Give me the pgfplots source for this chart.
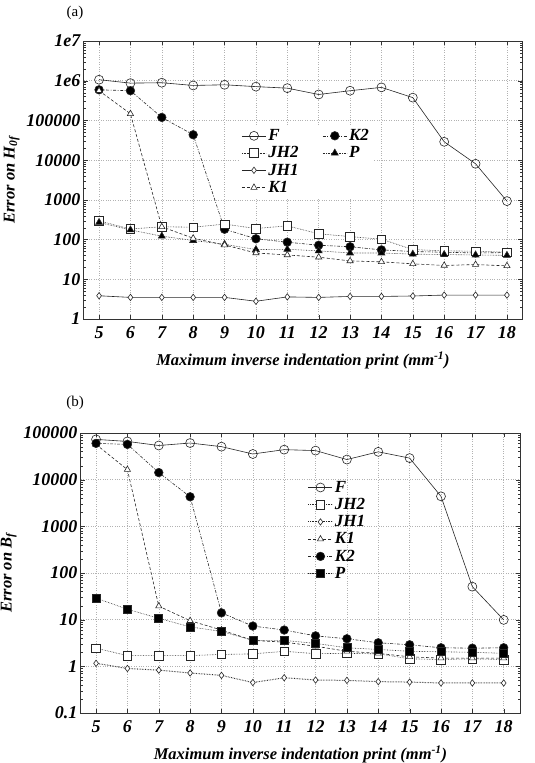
\documentclass[border=0pt]{standalone}
\usepackage{fontspec}
\setmainfont{Liberation Serif}
\usepackage{pgfplots}
\usepackage{pgfplotstable}
\pgfplotsset{compat=1.18}

\pgfplotstableread{
x  F       JH2  JH1   K1      K2      P
5  1.06e6  295  3.85  5.6e5   5.9e5   270
6  8.7e5   185  3.5   1.47e5  5.6e5   175
7  8.9e5   210  3.5   210     1.19e5  122
8  7.6e5   205  3.5   108     4.36e4  95
9  7.9e5   245  3.5   73      182     76
10 7.1e5   190  2.8   46      105     56
11 6.5e5   222  3.6   41      86      57
12 4.5e5   140  3.5   36      72      52
13 5.6e5   119  3.7   29      66      46
14 6.8e5   102  3.7   27.5    55      46
15 3.75e5  56   3.8   24.5    50      43
16 2.9e4   52   4.0   22.3    48      42
17 8.1e3   51   4.0   23.5    46      41
18 930     48   4.0   21.8    47      40
}\tabHof

\pgfplotstableread{
x  F       JH2   JH1   K1      K2      P
5  7.3e4   2.45  1.16  5.7e4   6.0e4   29
6  6.6e4   1.7   0.90  1.64e4  5.7e4   16.7
7  5.4e4   1.7   0.83  19.5    1.42e4  10.7
8  6.1e4   1.7   0.72  9.5     4.3e3   7.0
9  5.1e4   1.8   0.64  6.0     14      5.6
10 3.55e4  1.85  0.45  3.6     7.3     3.6
11 4.4e4   2.1   0.57  3.3     6.0     3.6
12 4.2e4   1.87  0.51  2.7     4.5     3.1
13 2.7e4   1.9   0.50  2.1     3.9     2.5
14 3.95e4  1.85  0.47  1.9     3.2     2.3
15 2.9e4   1.45  0.46  1.6     2.9     2.1
16 4.4e3   1.4   0.44  1.5     2.5     2.05
17 51      1.45  0.44  1.5     2.45    2.0
18 9.9     1.4   0.44  1.5     2.5     1.9
}\tabBf

\newcommand{\tickfont}{\fontsize{18}{18}\selectfont\bfseries\itshape}
\newcommand{\labfont}{\fontsize{16.5}{16.5}\selectfont\bfseries\itshape}
\newcommand{\legfont}{\fontsize{17}{17}\selectfont\bfseries\itshape}

\pgfplotsset{
  panel/.style={
    scale only axis,
    xtick={5,...,18},
    grid=major,
    grid style={dotted, gray!60, line width=0.5pt},
    axis line style={black!80, line width=1pt},
    tick style={black!80},
    tick align=inside,
    major tick length=4pt,
    minor tick length=2pt,
    ticklabel style={font=\tickfont},
    label style={font=\labfont},
    xlabel={Maximum inverse indentation print (mm\textsuperscript{-1})},
    xlabel style={yshift=-6pt},
    legend cell align=left,
    legend image code/.code={
      \draw[mark repeat=2,mark phase=2,##1] plot coordinates {(0pt,0pt) (12pt,0pt) (24pt,0pt)};},
    every axis plot/.append style={black!85, line width=0.6pt},
  },
  sF/.style={solid, mark=o, mark size=4.5pt, mark options={solid, fill=white}},
  sJHtwo/.style={densely dotted, mark=square*, mark size=4.3pt, mark options={solid, fill=white}},
  sJHone/.style={solid, mark=diamond*, mark size=3.2pt, mark options={solid, fill=white}},
  sKone/.style={dash pattern=on 3pt off 2pt, mark=triangle*, mark size=3.6pt, mark options={solid, fill=white}},
  sKtwo/.style={dash pattern=on 3pt off 1.5pt on 1pt off 1.5pt, mark=*, mark size=4.3pt, mark options={solid, fill=black}},
}

\begin{document}
\begin{tikzpicture}
\path[use as bounding box] (0pt,0pt) rectangle (535pt,-763pt);

\node at (75pt,-13pt) {\fontsize{15}{15}\selectfont (a)};
\node at (75pt,-403pt) {\fontsize{15}{15}\selectfont (b)};

\begin{axis}[panel, ymode=log,
  at={(84pt,-41pt)}, anchor=north west, width=438pt, height=278pt,
  xmin=4.52, xmax=18.48, ymin=1, ymax=1e7,
  xticklabel style={/pgf/number format/assume math mode=true, yshift=-4pt},
  ytick={1,10,100,1000,10000,100000,1000000,10000000},
  yticklabels={1,10,100,1000,10000,100000,1e6,1e7},
  ylabel={Error on H\textsubscript{0f}},
  legend columns=2,
  legend style={at={(0.355,0.697)}, anchor=north west, fill=white, draw=none,
    font=\legfont, inner sep=2pt, row sep=0.5pt,
    /tikz/every even column/.append style={column sep=22pt}},
]
\addplot[sF] table[x=x,y=F] {\tabHof};
\addlegendentry{F}
\addplot[sKtwo] table[x=x,y=K2] {\tabHof};
\addlegendentry{K2}
\addplot[sJHtwo] table[x=x,y=JH2] {\tabHof};
\addlegendentry{JH2}
\addplot[densely dotted, mark=triangle*, mark size=4pt, mark options={solid, fill=black}] table[x=x,y=P] {\tabHof};
\addlegendentry{P}
\addplot[sJHone] table[x=x,y=JH1] {\tabHof};
\addlegendentry{JH1}
\addlegendimage{empty legend}
\addlegendentry{}
\addplot[sKone] table[x=x,y=K1] {\tabHof};
\addlegendentry{K1}
\end{axis}

\begin{axis}[panel, ymode=log,
  at={(81pt,-433pt)}, anchor=north west, width=439pt, height=280pt,
  xmin=4.52, xmax=18.52, ymin=0.1, ymax=1e5,
  xticklabel style={/pgf/number format/assume math mode=true, yshift=-4pt},
  ytick={0.1,1,10,100,1000,10000,100000},
  yticklabels={0.1,1,10,100,1000,10000,100000},
  ylabel={Error on B\textsubscript{f}},
  legend style={at={(0.512,0.843)}, anchor=north west, fill=none, draw=none,
    font=\legfont, inner sep=2pt, row sep=0.5pt},
]
\addplot[sF] table[x=x,y=F] {\tabBf};
\addlegendentry{F}
\addplot[sJHtwo] table[x=x,y=JH2] {\tabBf};
\addlegendentry{JH2}
\addplot[densely dotted, line width=1pt, mark=diamond*, mark size=3.2pt, mark options={solid, fill=white, line width=0.6pt}] table[x=x,y=JH1] {\tabBf};
\addlegendentry{JH1}
\addplot[sKone] table[x=x,y=K1] {\tabBf};
\addlegendentry{K1}
\addplot[sKtwo] table[x=x,y=K2] {\tabBf};
\addlegendentry{K2}
\addplot[densely dotted, mark=square*, mark size=4pt, mark options={solid, fill=black}] table[x=x,y=P] {\tabBf};
\addlegendentry{P}
\end{axis}
\end{tikzpicture}
\end{document}
